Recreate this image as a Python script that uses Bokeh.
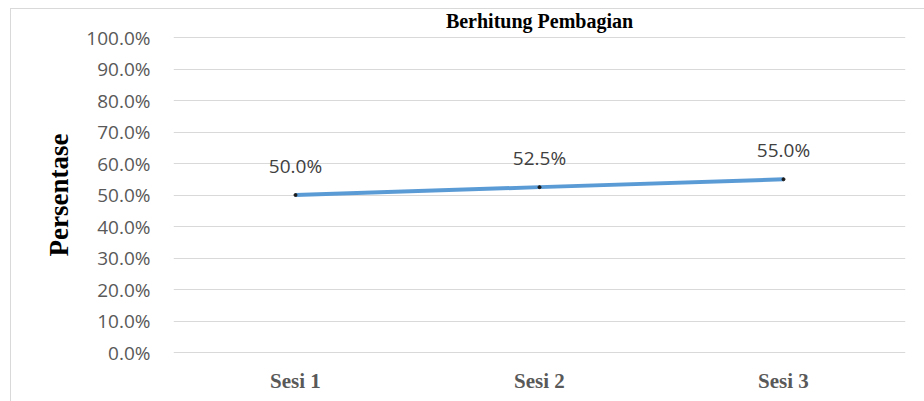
from bokeh.plotting import figure
from bokeh.models import (ColumnDataSource, FactorRange, Range1d, FixedTicker,
                          NumeralTickFormatter, LabelSet)
from bokeh.core.properties import value
from bokeh.embed import file_html
from bokeh.resources import INLINE

# ---- data ----
title_text = "Berhitung Pembagian"
sessions = ["Sesi 1", "Sesi 2", "Sesi 3"]
percent = [0.50, 0.525, 0.55]
percent_labels = ["50.0%", "52.5%", "55.0%"]
y_ticks = [0.0, 0.1, 0.2, 0.3, 0.4, 0.5, 0.6, 0.7, 0.8, 0.9, 1.0]
y_title = "Persentase"

src = ColumnDataSource(dict(x=sessions, y=percent, lab=percent_labels))

pad = 2.0 / 315.0
p = figure(width=924, height=401, output_backend="svg", toolbar_location=None,
           x_range=FactorRange(*sessions, range_padding=0),
           y_range=Range1d(-pad, 1 + pad),
           min_border_left=173, min_border_right=19,
           min_border_top=35, min_border_bottom=47)
p.outline_line_color = None
p.background_fill_color = "white"
p.border_fill_color = None

# outer chart border (top & left), drawn as background of the plot host
p.styles = {
    "background": ("linear-gradient(#d9d9d9,#d9d9d9) 10px 8px / 100% 1px no-repeat, "
                   "linear-gradient(#d9d9d9,#d9d9d9) 10px 8px / 1px 100% no-repeat, white")
}

# title
p.title.text = title_text
p.title.align = "center"
p.title.offset = -73
p.title.text_font = "Liberation Serif"
p.title.text_font_style = "bold"
p.title.text_font_size = "20px"
p.title.text_color = "#000000"
p.title.standoff = 8
p.title.background_fill_color = "white"

# grid
p.xgrid.grid_line_color = None
p.ygrid.grid_line_color = "#d9d9d9"
p.ygrid.grid_line_width = 1

# y axis
p.yaxis.ticker = FixedTicker(ticks=y_ticks)
p.yaxis.formatter = NumeralTickFormatter(format="0.0%")
p.yaxis.axis_line_color = None
p.yaxis.major_tick_line_color = None
p.yaxis.minor_tick_line_color = None
p.yaxis.major_label_standoff = 17
p.yaxis.major_label_text_font = "Open Sans"
p.yaxis.major_label_text_font_size = "19px"
p.yaxis.major_label_text_color = "#595959"
p.yaxis.axis_label = y_title
p.yaxis.axis_label_text_font = "Liberation Serif"
p.yaxis.axis_label_text_font_style = "bold"
p.yaxis.axis_label_text_font_size = "27px"
p.yaxis.axis_label_text_color = "#000000"
p.yaxis.axis_label_standoff = 9

# x axis
p.xaxis.axis_line_color = None
p.xaxis.major_tick_line_color = None
p.xaxis.minor_tick_line_color = None
p.xaxis.major_label_standoff = 8
p.xaxis.major_label_text_font = "Liberation Serif"
p.xaxis.major_label_text_font_style = "bold"
p.xaxis.major_label_text_font_size = "21px"
p.xaxis.major_label_text_color = "#595959"

# line
p.line("x", "y", source=src, line_color="#5B9BD5", line_width=4)
p.scatter("x", "y", source=src, size=3, color="#1a1a1a")

# data labels
p.add_layout(LabelSet(x="x", y="y", text="lab", source=src,
                      text_align="center", text_baseline="alphabetic",
                      y_offset=22, text_font=value("Open Sans"),
                      text_font_size="19px", text_color="#404040"))

open("out.html", "w").write(file_html(p, INLINE))
